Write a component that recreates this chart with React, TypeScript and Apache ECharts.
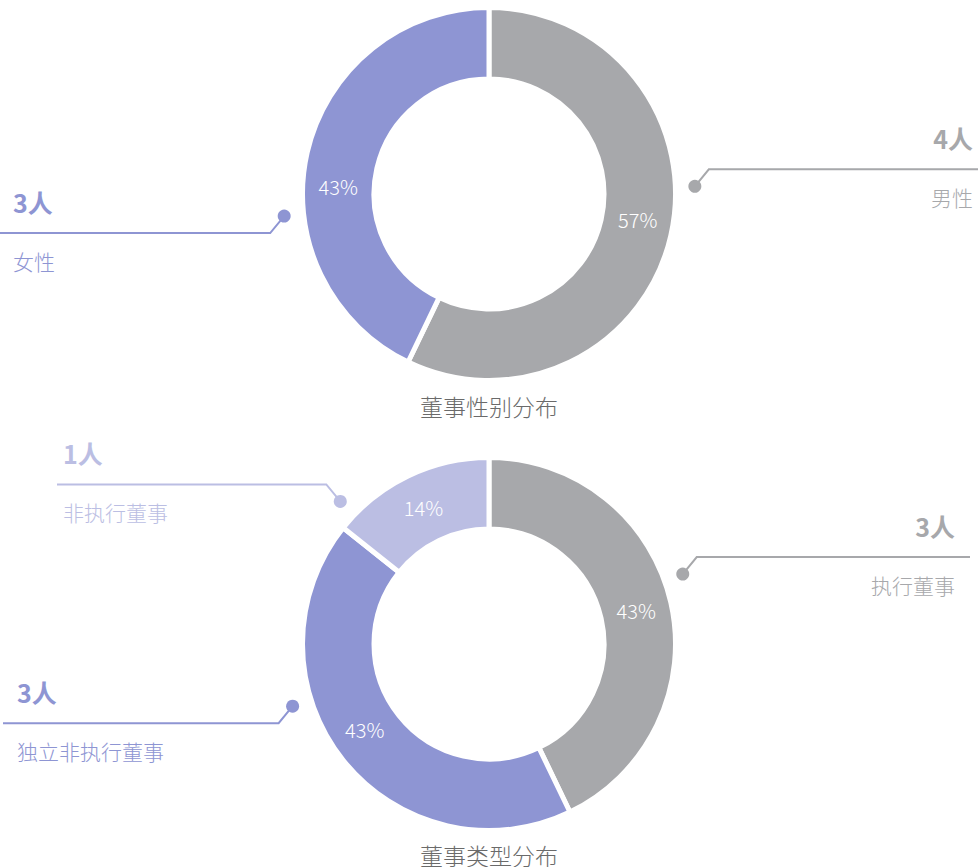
import React, { useEffect, useRef } from 'react';
import * as echarts from 'echarts';

// ---- data ----
const genderNames = ['男性', '女性'];
const genderValues = [4, 3];
const typeNames = ['执行董事', '独立非执行董事', '非执行董事'];
const typeValues = [3, 3, 1];
const unitText = '人';
const chartTitles = ['董事性别分布', '董事类型分布'];

// ---- layout / style ----
const W = 978;
const H = 867;
const FONT = '"Noto Sans CJK SC", "Noto Sans", sans-serif';
const GRAY = '#A7A8AB';
const PURPLE = '#8E95D3';
const LIGHT = '#BBBEE3';
const R_IN = 115;
const R_OUT = 186.5;
const R_DOT = 206;
const R_PCT = 151;

const layouts = [
  {
    cx: 489, cy: 194, titleTop: 394,
    colors: [GRAY, PURPLE],
    dotShift: [-15, -19], dir: [-1, 1],
    lineEnd: [W, 0], textEdge: [973, 13], pctShift: [-3, -10],
  },
  {
    cx: 489, cy: 644, titleTop: 843,
    colors: [GRAY, PURPLE, LIGHT],
    dotShift: [-7, 21, -20.5], dir: [-1, 1, -1],
    lineEnd: [970, 3, 57], textEdge: [955, 17, 63], pctShift: [0, 4, 0],
  },
];

function midAngles(values: number[]) {
  const total = values.reduce((a, b) => a + b, 0);
  let acc = 0;
  return values.map((v) => {
    const a = ((acc + v / 2) / total) * 360;
    acc += v;
    return a;
  });
}

function polar(cx: number, cy: number, r: number, deg: number) {
  const t = (deg * Math.PI) / 180;
  return [cx + r * Math.sin(t), cy - r * Math.cos(t)];
}

function buildChart(names: string[], values: number[], L: any) {
  const mids = midAngles(values);
  const visible = {
    type: 'pie',
    center: [L.cx, L.cy],
    radius: [R_IN, R_OUT],
    startAngle: 90,
    clockwise: true,
    silent: true,
    avoidLabelOverlap: false,
    percentPrecision: 0,
    itemStyle: { borderColor: '#fff', borderWidth: 5 },
    label: {
      show: true,
      position: 'inside',
      formatter: '{d}%',
      color: '#fff',
      fontSize: 20,
      fontWeight: 300,
      fontFamily: FONT,
    },
    labelLine: { show: false },
    labelLayout: (p: any) => {
      const i = p.dataIndex;
      const [x, y] = polar(L.cx, L.cy, R_PCT, mids[i] + L.pctShift[i]);
      return { x, y, align: 'center', verticalAlign: 'middle' };
    },
    data: values.map((v, i) => ({ value: v, name: names[i], itemStyle: { color: L.colors[i] } })),
  };
  const rich: any = {};
  L.colors.forEach((c: string, i: number) => {
    rich['v' + i] = { fontSize: 25, fontWeight: 'bold', color: c, lineHeight: 55, fontFamily: FONT };
    rich['n' + i] = { fontSize: 21, fontWeight: 300, color: c, lineHeight: 63, fontFamily: FONT };
  });
  const labels = {
    type: 'pie',
    center: [L.cx, L.cy],
    radius: [R_IN, R_OUT],
    startAngle: 90,
    clockwise: true,
    silent: true,
    avoidLabelOverlap: false,
    itemStyle: { color: 'rgba(0,0,0,0)', borderWidth: 0 },
    label: {
      show: true,
      position: 'outside',
      formatter: (p: any) => `{v${p.dataIndex}|${p.value}${unitText}}\n{n${p.dataIndex}|${p.name}}`,
      rich,
    },
    labelLine: { show: true, length: 10, length2: 10, smooth: false, lineStyle: { width: 2 } },
    labelLayout: (p: any) => {
      const i = p.dataIndex;
      const dot = polar(L.cx, L.cy, R_DOT, mids[i] + L.dotShift[i]);
      const side = L.lineEnd[i] > L.cx ? 1 : -1;
      const elbow = [dot[0] + side * 14, dot[1] + L.dir[i] * 17];
      const end = [L.lineEnd[i], elbow[1]];
      return {
        x: L.textEdge[i],
        y: elbow[1],
        align: side > 0 ? 'right' : 'left',
        verticalAlign: 'middle',
        labelLinePoints: [dot, elbow, end],
      };
    },
    data: values.map((v, i) => ({
      value: v,
      name: names[i],
      labelLine: { lineStyle: { color: L.colors[i], width: 2 } },
    })),
  };
  const dots = values.map((_, i) => {
    const [x, y] = polar(L.cx, L.cy, R_DOT, mids[i] + L.dotShift[i]);
    return { type: 'circle', shape: { cx: x, cy: y, r: 6.5 }, style: { fill: L.colors[i] }, z: 100 };
  });
  return { series: [visible, labels], dots };
}

export default function App() {
  const ref = useRef<HTMLDivElement>(null);
  useEffect(() => {
    if (!ref.current) return;
    const chart = echarts.init(ref.current, undefined, { renderer: 'svg' });
    const a = buildChart(genderNames, genderValues, layouts[0]);
    const b = buildChart(typeNames, typeValues, layouts[1]);
    chart.setOption({
      animation: false,
      backgroundColor: '#fff',
      title: chartTitles.map((t, i) => ({
        text: t,
        left: 'center',
        top: layouts[i].titleTop,
        padding: 0,
        textStyle: { fontSize: 23, fontWeight: 300, color: '#6a6a6a', fontFamily: FONT },
      })),
      series: [...a.series, ...b.series],
      graphic: [...a.dots, ...b.dots],
    });
    return () => chart.dispose();
  }, []);
  return (
    <div
      ref={ref}
      style={{ position: 'absolute', left: 0, top: 0, width: W, height: H }}
    />
  );
}
